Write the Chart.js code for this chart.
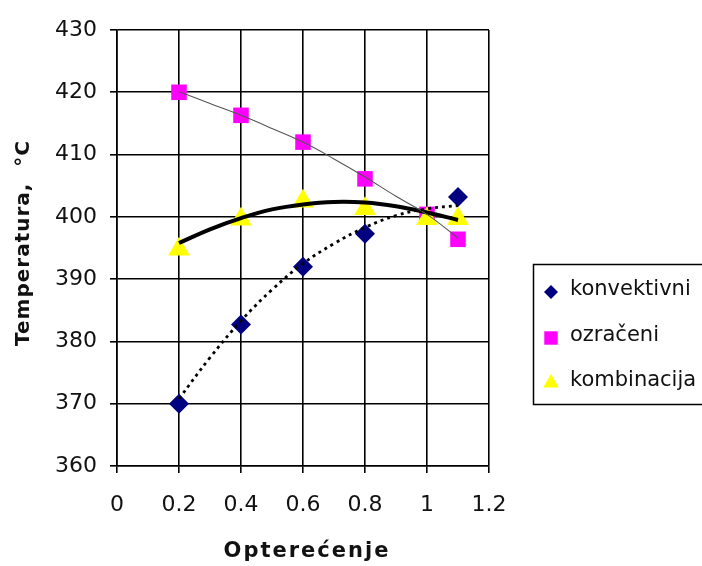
<!DOCTYPE html>
<html><head><meta charset="utf-8">
<script src="https://cdn.jsdelivr.net/npm/chart.js@4"></script>
<style>html,body{margin:0;padding:0;background:#fff}</style>
</head><body>
<canvas id="c" width="702" height="566"></canvas>
<script>
// ---- data ----
const xTickMin = 0, xTickMax = 1.2, xTickStep = 0.2;
const yTickMin = 360, yTickMax = 430, yTickStep = 10;

const seriesNames = ['konvektivni', 'ozračeni', 'kombinacija'];

const konvX = [0.2, 0.4, 0.6, 0.8, 1.1];
const konvY = [370, 382.7, 392, 397.3, 403.2];

const ozrX = [0.2, 0.4, 0.6, 0.8, 1.0, 1.1];
const ozrY = [420, 416.3, 412, 406.1, 400.4, 396.4];

const kombX = [0.2, 0.4, 0.6, 0.8, 1.0, 1.1];
const kombY = [394.8, 399.6, 402.5, 401.3, 399.7, 399.7];

// trendline values
const trendX = [0.2, 0.3, 0.4, 0.5, 0.6, 0.7, 0.8, 0.9, 1.0, 1.1];
const trendKonv = [370.8, 377.4, 383.3, 388.3, 392.5, 395.7, 398.3, 400.2, 401.3, 401.8];
const trendOzr  = [420.1, 418.2, 416.3, 414.2, 412.0, 409.3, 406.4, 403.3, 400.4, 396.6];
const trendKomb = [395.8, 398.0, 399.8, 401.2, 402.0, 402.4, 402.3, 401.7, 400.7, 399.5];

const xTitle = 'Opterećenje';
const yTitle = 'Temperatura,  °C';

function pts(xs, ys) { return xs.map((x, i) => ({x: x, y: ys[i]})); }

const markerStyles = [
  {color: '#000080', style: 'rectRot', r: 10, lr: 7},
  {color: '#FF00FF', style: 'rect', r: 11, lr: 9.5},
  {color: '#FFFF00', style: 'triangle', r: 12.5, lr: 9}
];

const datasets = [
  {label: '', data: pts(trendX, trendKonv), showLine: true, pointRadius: 0, borderColor: '#000',
   borderWidth: 2.8, borderDash: [3, 4], tension: 0.4, order: 0},
  {label: '', data: pts(trendX, trendOzr), showLine: true, pointRadius: 0, borderColor: '#555',
   borderWidth: 1.1, tension: 0.4, order: 0},
  {label: '', data: pts(trendX, trendKomb), showLine: true, pointRadius: 0, borderColor: '#000',
   borderWidth: 4, tension: 0.4, order: 0},
  {label: seriesNames[0], data: pts(konvX, konvY), pointStyle: markerStyles[0].style,
   pointRadius: markerStyles[0].r, backgroundColor: markerStyles[0].color, borderColor: markerStyles[0].color,
   borderWidth: 0, showLine: false, order: 3},
  {label: seriesNames[1], data: pts(ozrX, ozrY), pointStyle: markerStyles[1].style,
   pointRadius: markerStyles[1].r, backgroundColor: markerStyles[1].color, borderColor: markerStyles[1].color,
   borderWidth: 0, showLine: false, order: 2},
  {label: seriesNames[2], data: pts(kombX, kombY), pointStyle: markerStyles[2].style,
   pointRadius: markerStyles[2].r, backgroundColor: markerStyles[2].color, borderColor: markerStyles[2].color,
   borderWidth: 0, showLine: false, order: 1}
];

const FONT = "'DejaVu Sans', sans-serif";

function drawMarker(ctx, style, x, y, r, color) {
  ctx.save();
  ctx.fillStyle = color;
  ctx.beginPath();
  if (style === 'rectRot') {
    ctx.moveTo(x, y - r); ctx.lineTo(x + r, y); ctx.lineTo(x, y + r); ctx.lineTo(x - r, y);
  } else if (style === 'rect') {
    const h = r * Math.SQRT1_2;
    ctx.rect(x - h, y - h, 2 * h, 2 * h);
  } else {
    ctx.moveTo(x, y - r);
    ctx.lineTo(x + r * Math.sin(2 * Math.PI / 3), y - r * Math.cos(2 * Math.PI / 3));
    ctx.lineTo(x + r * Math.sin(4 * Math.PI / 3), y - r * Math.cos(4 * Math.PI / 3));
  }
  ctx.closePath();
  ctx.fill();
  ctx.restore();
}

const extras = {
  id: 'extras',
  afterDraw(chart) {
    const ctx = chart.ctx;
    // axis titles
    ctx.save();
    ctx.fillStyle = '#111';
    ctx.font = "bold 21px " + FONT;
    ctx.textAlign = 'center';
    ctx.textBaseline = 'middle';
    ctx.letterSpacing = '2px';
    ctx.fillText(xTitle, 307, 552);
    ctx.restore();

    ctx.save();
    ctx.fillStyle = '#111';
    ctx.font = "bold 20px " + FONT;
    ctx.textAlign = 'center';
    ctx.textBaseline = 'middle';
    ctx.letterSpacing = '1px';
    ctx.translate(24, 243);
    ctx.rotate(-Math.PI / 2);
    ctx.fillText(yTitle, 0, 0);
    ctx.restore();

    // legend
    ctx.save();
    ctx.strokeStyle = '#000';
    ctx.lineWidth = 1.5;
    ctx.strokeRect(533.5, 264.5, 200, 140);
    ctx.font = "21px " + FONT;
    ctx.fillStyle = '#111';
    ctx.textAlign = 'left';
    ctx.textBaseline = 'middle';
    const ys = [290, 336, 381];
    seriesNames.forEach((name, i) => {
      const m = markerStyles[i];
      drawMarker(ctx, m.style, 551, ys[i] + 2, m.lr, m.color);
      ctx.fillText(name, 570, ys[i]);
    });
    ctx.restore();
  }
};

new Chart(document.getElementById('c'), {
  type: 'scatter',
  data: {datasets: datasets},
  options: {
    responsive: false,
    animation: false,
    devicePixelRatio: 1,
    layout: {padding: {left: 0, top: 30, right: 213, bottom: 0}},
    plugins: {legend: {display: false}, tooltip: {enabled: false}},
    scales: {
      x: {
        type: 'linear', min: xTickMin, max: xTickMax,
        ticks: {stepSize: xTickStep, color: '#111', font: {family: FONT, size: 22}, padding: 19,
                callback: v => String(Math.round(v * 10) / 10)},
        grid: {color: '#000', lineWidth: 1.6, tickLength: 7},
        border: {color: '#000', width: 1.6},
        afterFit: s => { s.height = 100; }
      },
      y: {
        type: 'linear', min: yTickMin, max: yTickMax,
        ticks: {stepSize: yTickStep, color: '#111', font: {family: FONT, size: 22}, padding: 13},
        grid: {color: '#000', lineWidth: 1.6, tickLength: 7},
        border: {color: '#000', width: 1.6},
        afterFit: s => { s.width = 117; }
      }
    }
  },
  plugins: [extras]
});
</script>
</body></html>
